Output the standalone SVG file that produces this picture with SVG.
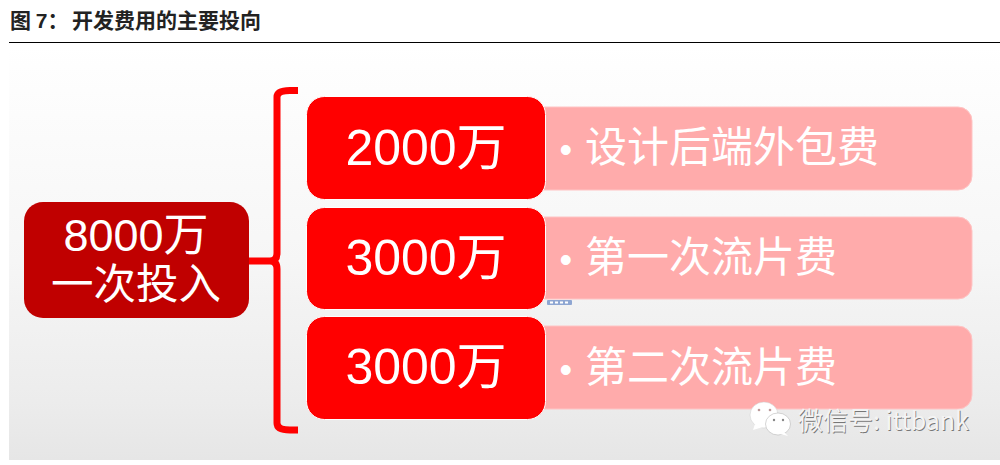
<svg xmlns="http://www.w3.org/2000/svg" width="1000" height="465" viewBox="0 0 1000 465">
<defs>
<linearGradient id="bg" x1="0" y1="0" x2="0" y2="1"><stop offset="0" stop-color="#ffffff"/><stop offset="0.05" stop-color="#fefefe"/><stop offset="0.52" stop-color="#f6f6f6"/><stop offset="0.61" stop-color="#f3f3f3"/><stop offset="0.86" stop-color="#ececec"/><stop offset="1" stop-color="#e6e6e6"/></linearGradient>
</defs>
<style>
text{font-family:"Noto Sans CJK SC","Liberation Sans",sans-serif}
.big{font-size:50px;fill:#fff;text-anchor:middle;font-family:"Liberation Sans","Noto Sans CJK SC",sans-serif}
.left{fill:#fff;text-anchor:middle;font-family:"Liberation Sans","Noto Sans CJK SC",sans-serif}
.desc{font-size:42px;fill:#fff}
.dot{font-family:"Liberation Sans",sans-serif;font-size:36px}
.num{fill:#ff0000;stroke:#fff;stroke-width:1}
.pale{fill:#ffabab;stroke:#ffc4c4;stroke-width:1}
</style>
<rect width="1000" height="465" fill="#fff"/>
<text x="10" y="28" font-size="21" font-weight="700" fill="#222">图 <tspan font-family="Liberation Sans">7</tspan>：<tspan x="72">开发费用的主要投向</tspan></text>
<rect x="9" y="42" width="991" height="1" fill="#000"/>
<rect x="9" y="45" width="991" height="415" fill="url(#bg)"/>
<g id="connectors">
<path d="M298 90.500H290Q277 90.500 277 97V253Q277 261 270 261H249M270 261Q277 261 277 269V423Q277 430 290 430H298" fill="none" stroke="#ff0000" stroke-width="7"/>
</g>
<g id="node-root">
<rect x="24" y="202" width="225" height="116" rx="19" fill="#c00000"/>
<text class="left" x="136" y="251" font-size="45">8000万</text>
<text class="left" x="136" y="299" font-size="42.500">一次投入</text>
</g>
<g id="desc-1">
<rect class="pale" x="520" y="107" width="452" height="83" rx="14"/>
<text class="desc" x="585" y="162"><tspan class="dot" x="559.500">•</tspan><tspan x="585">设计后端外包费</tspan></text>
</g>
<g id="desc-2">
<rect class="pale" x="520" y="217" width="452" height="82" rx="14"/>
<text class="desc" x="585" y="272"><tspan class="dot" x="559.500">•</tspan><tspan x="585">第一次流片费</tspan></text>
</g>
<g id="desc-3">
<rect class="pale" x="520" y="326" width="452" height="83" rx="14"/>
<text class="desc" x="585" y="382"><tspan class="dot" x="559.500">•</tspan><tspan x="585">第二次流片费</tspan></text>
</g>
<g id="node-1">
<rect class="num" x="306.500" y="96.500" width="239" height="103" rx="18"/>
<text class="big" x="426" y="165">2000万</text>
</g>
<g id="node-2">
<rect class="num" x="306.500" y="207.500" width="239" height="102" rx="18"/>
<text class="big" x="426" y="275">3000万</text>
</g>
<g id="node-3">
<rect class="num" x="306.500" y="316.500" width="239" height="103" rx="18"/>
<text class="big" x="426" y="384">3000万</text>
</g>
<g id="handle">
<rect x="547" y="300" width="25" height="5" rx="1" fill="#8ea6d2"/>
<path d="M550 302.500H568" stroke="#fff" stroke-width="2" stroke-dasharray="3 2"/>
</g>
<g id="watermark">
<ellipse cx="764" cy="415" rx="14" ry="13" fill="#fff" stroke="#ccc" stroke-width="0.500"/>
<path d="M755 424L753 430L763 427Z" fill="#fff"/>
<ellipse cx="778" cy="424" rx="12.500" ry="11" fill="#fff" stroke="#aaa" stroke-width="0.500"/>
<path d="M784 432L788 436L780 434Z" fill="#fff"/>
<circle cx="759" cy="410" r="1.300" fill="#b99"/><circle cx="770" cy="410" r="1.300" fill="#b99"/>
<circle cx="774" cy="420" r="1.200" fill="#888"/><circle cx="783" cy="420" r="1.200" fill="#888"/>
<text x="798" y="430" font-size="25" fill="#777" transform="translate(0.800 0.800)">微信号: ittbank</text>
<text x="798" y="430" font-size="25" fill="#f4f4f4">微信号: ittbank</text>
</g>
</svg>
